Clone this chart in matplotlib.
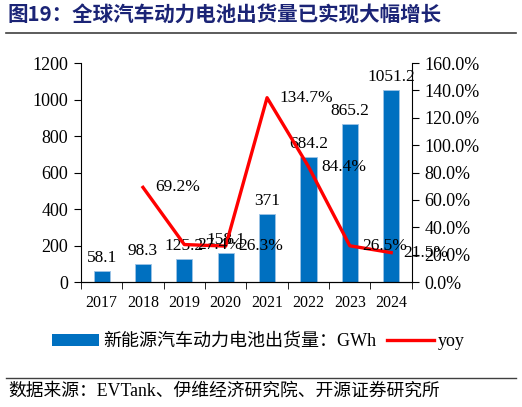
import matplotlib
matplotlib.use('Agg')
import matplotlib.pyplot as plt
from matplotlib.lines import Line2D
from matplotlib.patches import Patch
from matplotlib.ticker import FuncFormatter

plt.rcParams['font.family'] = ['Liberation Serif', 'Noto Sans CJK SC', 'DejaVu Sans']

years = ['2017', '2018', '2019', '2020', '2021', '2022', '2023', '2024']
shipments = [58.1, 98.3, 125.2, 158.1, 371, 684.2, 865.2, 1051.2]
yoy = [None, 69.2, 27.4, 26.3, 134.7, 84.4, 26.5, 21.5]

bar_color = '#0070C0'
title_color = '#1B2476'

fig = plt.figure(figsize=(5.22, 4.07), dpi=100)
ax = fig.add_axes([0.155, 0.307, 0.634, 0.538])
ax2 = ax.twinx()

x = list(range(len(years)))
ax.bar(x, shipments, width=0.39, color=bar_color, edgecolor='#9DC3E6', linewidth=0.6, zorder=2)
for xi, v in zip(x, shipments):
    lab = ('%g' % v) if v != int(v) else str(int(v))
    ax.annotate(lab, (xi, v), xytext=(0, 4), textcoords='offset points',
                ha='center', va='bottom', fontsize=12.5, zorder=5)

ax.set_xlim(-0.5, len(years) - 0.5)
ax.set_ylim(0, 1200)
ax.set_yticks(range(0, 1201, 200))
ax.set_xticks(x)
ax.set_xticklabels(years)
ax.set_xticks([i + 0.5 for i in range(-1, len(years))], minor=True)
ax.tick_params(axis='x', which='major', length=0, pad=9, labelsize=11.5)
ax.tick_params(axis='x', which='minor', length=5, direction='out')
ax.tick_params(axis='y', length=5, direction='out', labelsize=13, pad=4)

yx = [i for i, v in zip(x, yoy) if v is not None]
yv = [v for v in yoy if v is not None]
ax2.plot(yx, yv, color='#FF0000', linewidth=2.4, zorder=3)
for xi, v in zip(yx, yv):
    ax2.annotate('%.1f%%' % v, (xi, v), xytext=(9, 0), textcoords='offset points',
                 ha='left', va='center', fontsize=12.5)
ax2.set_ylim(0, 160)
ax2.set_yticks(range(0, 161, 20))
ax2.yaxis.set_major_formatter(FuncFormatter(lambda v, p: '%.1f%%' % v))
ax2.tick_params(axis='y', length=5, direction='out', labelsize=13, pad=4)

for a in (ax, ax2):
    a.spines['top'].set_visible(False)
    a.set_zorder(1)
ax.spines['right'].set_visible(False)
ax2.spines['left'].set_visible(False)
ax.patch.set_visible(False)

handles = [Patch(facecolor=bar_color, edgecolor='none'),
           Line2D([0], [0], color='#FF0000', linewidth=2.4)]
fig.legend(handles, ['新能源汽车动力电池出货量：GWh', 'yoy'],
           loc='center', bbox_to_anchor=(0.495, 0.16), ncol=2, frameon=False,
           fontsize=13, handlelength=2.6, handleheight=0.6, columnspacing=0.6,
           handletextpad=0.2)

fig.text(0.015, 0.962, '图19：全球汽车动力电池出货量已实现大幅增长', fontsize=14.8,
         fontweight='bold', color=title_color, va='center', ha='left',
         family=['Noto Sans CJK SC', 'DejaVu Sans'])
fig.add_artist(Line2D([0.012, 0.988], [0.918, 0.918], color='#404040', linewidth=1.2))
fig.add_artist(Line2D([0.012, 0.988], [0.071, 0.071], color='#404040', linewidth=1.0))
fig.text(0.015, 0.04, '数据来源：EVTank、伊维经济研究院、开源证券研究所', fontsize=12.8,
         va='center', ha='left')

fig.savefig('out.png', dpi=100)
